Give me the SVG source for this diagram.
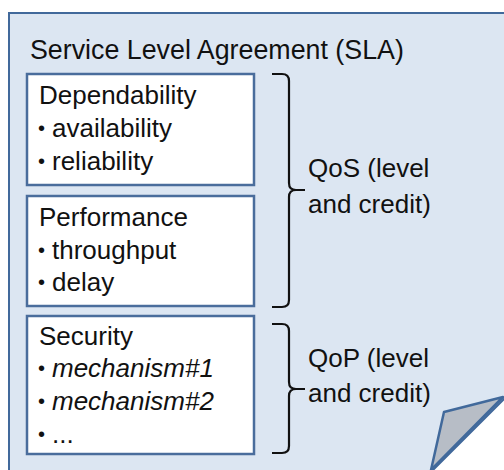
<svg xmlns="http://www.w3.org/2000/svg" width="504" height="470" viewBox="0 0 504 470">
<style>
text{font-family:"Liberation Sans",Arial,sans-serif;font-size:26px;fill:#111}
.title{font-size:26.8px}
.b{font-size:20px}
.box{fill:#fff;stroke:#4a6d9c;stroke-width:2.5}
.br{fill:none;stroke:#111;stroke-width:2.2}
.it{font-style:italic}
</style>
<g id="page">
<path d="M9,13 H506 V397 L431,472 H9 Z" fill="#dce6f2" stroke="#41699b" stroke-width="2"/>
<path d="M431,470 L444,412 L503,397 Z" fill="#b7bdc6" stroke="#41699b" stroke-width="2.5" stroke-linejoin="round"/>
<text class="title" x="30" y="59">Service Level Agreement (SLA)</text>
</g>
<g id="dependability">
<rect class="box" x="27" y="74" width="227" height="111"/>
<text x="39" y="104">Dependability</text>
<text class="b" x="38" y="135">•</text><text x="52" y="137">availability</text>
<text class="b" x="38" y="168">•</text><text x="52" y="170">reliability</text>
</g>
<g id="performance">
<rect class="box" x="27" y="196" width="227" height="110"/>
<text x="39" y="226">Performance</text>
<text class="b" x="38" y="257">•</text><text x="52" y="259">throughput</text>
<text class="b" x="38" y="289">•</text><text x="52" y="291">delay</text>
</g>
<g id="security">
<rect class="box" x="27" y="316" width="227" height="138"/>
<text x="39" y="345">Security</text>
<text class="b" x="38" y="375">•</text><text x="52" y="377" class="it">mechanism#1</text>
<text class="b" x="38" y="408">•</text><text x="52" y="410" class="it">mechanism#2</text>
<text class="b" x="38" y="441">•</text><text x="52" y="443">...</text>
</g>
<g id="connectors">
<path class="br" d="M272,74 H282 Q289,74 289,81 V183 Q289,190 296,190 H305 M296,190 Q289,190 289,197 V300 Q289,307 282,307 H272"/>
<path class="br" d="M272,324 H282 Q289,324 289,331 V382 Q289,389 296,389 H305 M296,389 Q289,389 289,396 V446 Q289,453 282,453 H272"/>
</g>
<g id="qos">
<text x="308" y="177">QoS (level</text>
<text x="308" y="213">and credit)</text>
</g>
<g id="qop">
<text x="308" y="367">QoP (level</text>
<text x="308" y="402">and credit)</text>
</g>
</svg>
